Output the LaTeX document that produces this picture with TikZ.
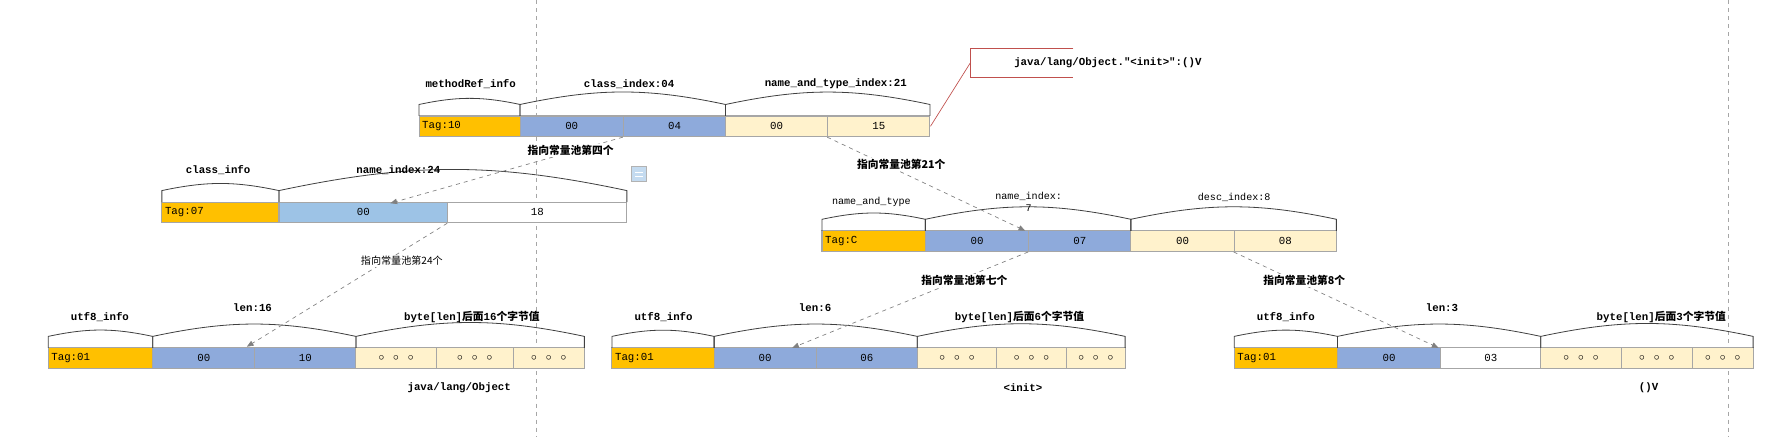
\documentclass[tikz,border=0pt]{standalone}
\usepackage{fontspec}
\setmonofont{Liberation Mono}
\newfontfamily\cjk{Noto Sans CJK SC}
\usetikzlibrary{arrows.meta}
\definecolor{tagc}{HTML}{FFC000}
\definecolor{bluec}{HTML}{8EAADB}
\definecolor{lbluec}{HTML}{9DC3E6}
\definecolor{creamc}{HTML}{FFF2CC}
\definecolor{bordc}{HTML}{A6A6A6}
\definecolor{redc}{HTML}{C0504D}
\tikzset{
 cell/.style={draw=bordc,line width=0.8pt,minimum height=0.54cm,inner sep=0pt,font=\ttfamily\fontsize{8}{9}\selectfont},
 brace/.style={draw=black!75,line width=0.6pt},
 lbl/.style={font=\ttfamily\bfseries\fontsize{8}{9}\selectfont,inner sep=0pt},
 lbln/.style={font=\ttfamily\fontsize{7.5}{9}\selectfont,inner sep=0pt,align=center},
 cn/.style={font=\cjk\bfseries\fontsize{8}{9}\selectfont,inner sep=1pt},
 cnn/.style={font=\cjk\fontsize{7.5}{9}\selectfont,inner sep=1pt},
 ptr/.style={draw=black!50,dashed,line width=0.5pt,-{Triangle[length=5pt,width=4pt]}},
 guide/.style={draw=black!35,dashed,line width=0.5pt}
}
% name, x1, x2, ycenter, fill, text
\newcommand\mycell[6]{\node[cell,fill=#5,minimum width={(#3-#2)*0.03cm}] (#1) at ({(#2+#3)/2},#4) {#6};}
\newcommand\mytag[5]{\node[cell,fill=tagc,minimum width={(#3-#2)*0.03cm},text width={(#3-#2)*0.03cm-2pt},align=left] (#1) at ({(#2+#3)/2},#4) {\,#5};}
% x1 x2 ybottom
\newcommand\mybrace[3]{\draw[brace] (#1,#3) -- (#1,{#3-10}) to[bend left=12] (#2,{#3-10}) -- (#2,#3);}
\begin{document}
\begin{tikzpicture}[x=0.03cm,y=-0.03cm]
\useasboundingbox (0,0) rectangle (1560,380);
\draw[guide] (467,0) -- (467,380);
\draw[guide] (1505,0) -- (1505,380);
% methodRef row
\mytag{m0}{365}{453}{110}{Tag:10}
\mycell{m1}{453}{543}{110}{bluec}{00}
\mycell{m2}{543}{632}{110}{bluec}{04}
\mycell{m3}{632}{721}{110}{creamc}{00}
\mycell{m4}{721}{810}{110}{creamc}{15}
\mybrace{365}{453}{101}\mybrace{453}{632}{101}\mybrace{632}{810}{101}
\node[lbl] (ml0) at (410,73) {methodRef\_info};
\node[lbl] (ml1) at (548,73) {class\_index:04};
\node[lbl] (ml2) at (728,73) {name\_and\_type\_index:21};
\draw[redc,line width=0.6pt] (935,42) -- (845,42) -- (845,67) -- (935,67);
\node[lbl] (obj) at (965,55) {java/lang/Object."<init>":()V};
\draw[redc,line width=0.5pt] (m4.east) -- (845,55);
% class_info row
\mytag{c0}{141}{243}{185}{Tag:07}
\mycell{c1}{243}{390}{185}{lbluec}{00}
\mycell{c2}{390}{546}{185}{white}{18}
\mybrace{141}{243}{176}\mybrace{243}{546}{176}
\node[lbl] (cl0) at (190,148) {class\_info};
\node[lbl] (cl1) at (347,148) {name\_index:24};
\draw[fill=lbluec!60,draw=black!30] (550,145) rectangle (563,158);
\draw[white,line width=1pt] (553,150) -- (560,150) (553,153.5) -- (560,153.5);
% name_and_type row
\mytag{n0}{716}{806}{210}{Tag:C}
\mycell{n1}{806}{896}{210}{bluec}{00}
\mycell{n2}{896}{985}{210}{bluec}{07}
\mycell{n3}{985}{1075}{210}{creamc}{00}
\mycell{n4}{1075}{1164}{210}{creamc}{08}
\mybrace{716}{806}{201}\mybrace{806}{985}{201}\mybrace{985}{1164}{201}
\node[lbln] (nl0) at (759,176) {name\_and\_type};
\node[lbln] (nl1) at (896,176) {name\_index:\\7};
\node[lbln] (nl2) at (1075,172) {desc\_index:8};
% utf8 rows
\mytag{a0}{42}{133}{312}{Tag:01}
\mycell{a1}{133}{222}{312}{bluec}{00}
\mycell{a2}{222}{310}{312}{bluec}{10}
\mycell{a3}{310}{380}{312}{creamc}{$\circ\ \circ\ \circ$}
\mycell{a4}{380}{447}{312}{creamc}{$\circ\ \circ\ \circ$}
\mycell{a5}{447}{509}{312}{creamc}{$\circ\ \circ\ \circ$}
\mybrace{42}{133}{303}\mybrace{133}{310}{303}\mybrace{310}{509}{303}
\node[lbl] (al0) at (87,276) {utf8\_info};
\node[lbl] (al1) at (220,268) {len:16};
\node[lbl] (al2) at (411,276) {byte[len]{\cjk 后面}16{\cjk 个字节值}};
\node[lbl] (al3) at (400,338) {java/lang/Object};
\mytag{b0}{533}{622}{312}{Tag:01}
\mycell{b1}{622}{711}{312}{bluec}{00}
\mycell{b2}{711}{799}{312}{bluec}{06}
\mycell{b3}{799}{868}{312}{creamc}{$\circ\ \circ\ \circ$}
\mycell{b4}{868}{929}{312}{creamc}{$\circ\ \circ\ \circ$}
\mycell{b5}{929}{980}{312}{creamc}{$\circ\ \circ\ \circ$}
\mybrace{533}{622}{303}\mybrace{622}{799}{303}\mybrace{799}{980}{303}
\node[lbl] (bl0) at (578,276) {utf8\_info};
\node[lbl] (bl1) at (710,268) {len:6};
\node[lbl] (bl2) at (888,276) {byte[len]{\cjk 后面}6{\cjk 个字节值}};
\node[lbl] (bl3) at (891,338) {<init>};
\mytag{d0}{1075}{1165}{312}{Tag:01}
\mycell{d1}{1165}{1255}{312}{bluec}{00}
\mycell{d2}{1255}{1342}{312}{white}{03}
\mycell{d3}{1342}{1412}{312}{creamc}{$\circ\ \circ\ \circ$}
\mycell{d4}{1412}{1474}{312}{creamc}{$\circ\ \circ\ \circ$}
\mycell{d5}{1474}{1527}{312}{creamc}{$\circ\ \circ\ \circ$}
\mybrace{1075}{1165}{303}\mybrace{1165}{1342}{303}\mybrace{1342}{1527}{303}
\node[lbl] (dl0) at (1120,276) {utf8\_info};
\node[lbl] (dl1) at (1256,268) {len:3};
\node[lbl] (dl2) at (1447,276) {byte[len]{\cjk 后面}3{\cjk 个字节值}};
\node[lbl] (dl3) at (1436,338) {()V};
% pointers
\coordinate (p1) at (340,177);
\coordinate (p2) at (215,302);
\coordinate (p3) at (893,201);
\coordinate (p4) at (690,303);
\coordinate (p5) at (1253,303);
\draw[ptr] (m2.south west) -- (p1);
\draw[ptr] (c2.south west) -- (p2);
\draw[ptr] (m4.south west) -- (p3);
\draw[ptr] (n2.south west) -- (p4);
\draw[ptr] (n4.south west) -- (p5);
\node[cn,fill=white] (t1) at (497,131) {指向常量池第四个};
\node[cnn,fill=white] (t2) at (350,227) {指向常量池第24个};
\node[cn,fill=white] (t3) at (785,143) {指向常量池第21个};
\node[cn,fill=white] (t4) at (840,244) {指向常量池第七个};
\node[cn,fill=white] (t5) at (1136,244) {指向常量池第8个};
\end{tikzpicture}
\end{document}
